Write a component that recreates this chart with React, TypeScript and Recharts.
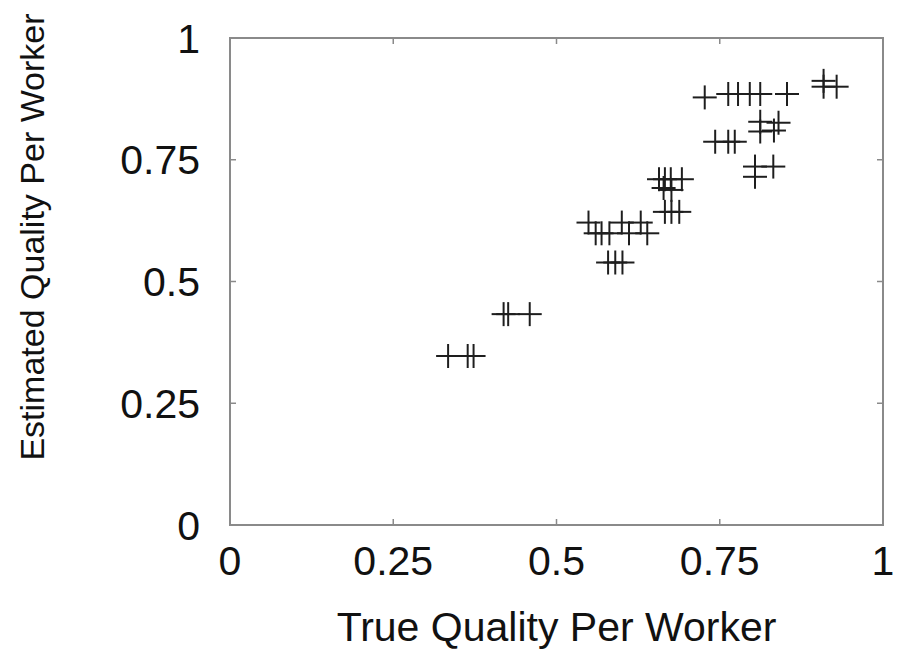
import { ReferenceArea, ReferenceLine, Scatter, ScatterChart, XAxis, YAxis } from "recharts";

const TICKS = [0, 0.25, 0.5, 0.75, 1];
const TICK_LABELS = ["0", "0.25", "0.5", "0.75", "1"];
const INNER_TICKS = [0.25, 0.5, 0.75];

// true quality (x) and estimated quality (y), one entry per worker
const trueQuality = [
  0.334, 0.364, 0.373, 0.419, 0.426, 0.459, 0.579, 0.59, 0.601, 0.549, 0.6,
  0.629, 0.56, 0.569, 0.581, 0.611, 0.639, 0.657, 0.666, 0.675, 0.692, 0.664,
  0.676, 0.666, 0.676, 0.688, 0.727, 0.763, 0.778, 0.796, 0.812, 0.853, 0.812,
  0.84, 0.812, 0.833, 0.743, 0.763, 0.773, 0.804, 0.832, 0.804, 0.909, 0.909,
  0.929,
];
const estQuality = [
  0.347, 0.347, 0.347, 0.433, 0.433, 0.433, 0.539, 0.539, 0.539, 0.621, 0.621,
  0.621, 0.599, 0.599, 0.599, 0.599, 0.599, 0.71, 0.71, 0.71, 0.71, 0.692,
  0.688, 0.643, 0.643, 0.643, 0.878, 0.885, 0.885, 0.885, 0.885, 0.885, 0.828,
  0.826, 0.808, 0.81, 0.787, 0.787, 0.787, 0.736, 0.736, 0.715, 0.912, 0.9,
  0.9,
];

const data = trueQuality.map((x, i) => ({ x, y: estQuality[i] }));

const FONT = "'Liberation Sans', Arial, sans-serif";
const FRAME = "#8a8a8a";
const TX = 0.0092; // inward tick length in x units
const TY = 0.0123; // inward tick length in y units

function Plus(props: any) {
  const { cx, cy } = props;
  const s = 12;
  return (
    <g stroke="#1e1e1e" strokeWidth={2}>
      <line x1={cx - s} y1={cy} x2={cx + s} y2={cy} />
      <line x1={cx} y1={cy - s} x2={cx} y2={cy + s} />
    </g>
  );
}

const fmt = (v: number) => TICK_LABELS[TICKS.indexOf(v)] ?? String(v);

export default function App() {
  return (
    <div style={{ position: "absolute", left: 0, top: 0, background: "#fff" }}>
      <ScatterChart
        width={899}
        height={651}
        margin={{ top: 38, right: 16, bottom: 0, left: 0 }}
      >
        <XAxis
          type="number"
          dataKey="x"
          domain={[0, 1]}
          ticks={TICKS}
          tickFormatter={fmt}
          axisLine={false}
          tickLine={false}
          tickSize={0}
          tickMargin={21}
          height={126}
          tick={{ fill: "#111", fontSize: 41, fontFamily: FONT }}
          label={{
            content: ({ viewBox }: any) => (
              <text
                x={viewBox.x + viewBox.width / 2}
                y={viewBox.y + 116}
                textAnchor="middle"
                fill="#111"
                fontSize={41}
                fontFamily={FONT}
              >
                True Quality Per Worker
              </text>
            ),
          }}
        />
        <YAxis
          type="number"
          dataKey="y"
          domain={[0, 1]}
          ticks={TICKS}
          tickFormatter={fmt}
          axisLine={false}
          tickLine={false}
          tickSize={0}
          tickMargin={30}
          width={230}
          tick={{ fill: "#111", fontSize: 41, fontFamily: FONT }}
          label={{
            content: ({ viewBox }: any) => {
              const lx = viewBox.x + 44;
              const ly = 237;
              return (
                <text
                  x={lx}
                  y={ly}
                  transform={`rotate(-90, ${lx}, ${ly})`}
                  textAnchor="middle"
                  fill="#111"
                  fontSize={34}
                  fontFamily={FONT}
                >
                  Estimated Quality Per Worker
                </text>
              );
            },
          }}
        />
        <ReferenceArea
          x1={0}
          x2={1}
          y1={0}
          y2={1}
          fill="none"
          stroke={FRAME}
          strokeWidth={2}
        />
        {INNER_TICKS.map((t) => (
          <ReferenceLine
            key={`b${t}`}
            segment={[{ x: t, y: 0 }, { x: t, y: TY }]}
            stroke={FRAME}
            strokeWidth={1.5}
          />
        ))}
        {INNER_TICKS.map((t) => (
          <ReferenceLine
            key={`t${t}`}
            segment={[{ x: t, y: 1 }, { x: t, y: 1 - TY }]}
            stroke={FRAME}
            strokeWidth={1.5}
          />
        ))}
        {INNER_TICKS.map((t) => (
          <ReferenceLine
            key={`l${t}`}
            segment={[{ x: 0, y: t }, { x: TX, y: t }]}
            stroke={FRAME}
            strokeWidth={1.5}
          />
        ))}
        {INNER_TICKS.map((t) => (
          <ReferenceLine
            key={`r${t}`}
            segment={[{ x: 1, y: t }, { x: 1 - TX, y: t }]}
            stroke={FRAME}
            strokeWidth={1.5}
          />
        ))}
        <Scatter data={data} shape={<Plus />} isAnimationActive={false} />
      </ScatterChart>
    </div>
  );
}
